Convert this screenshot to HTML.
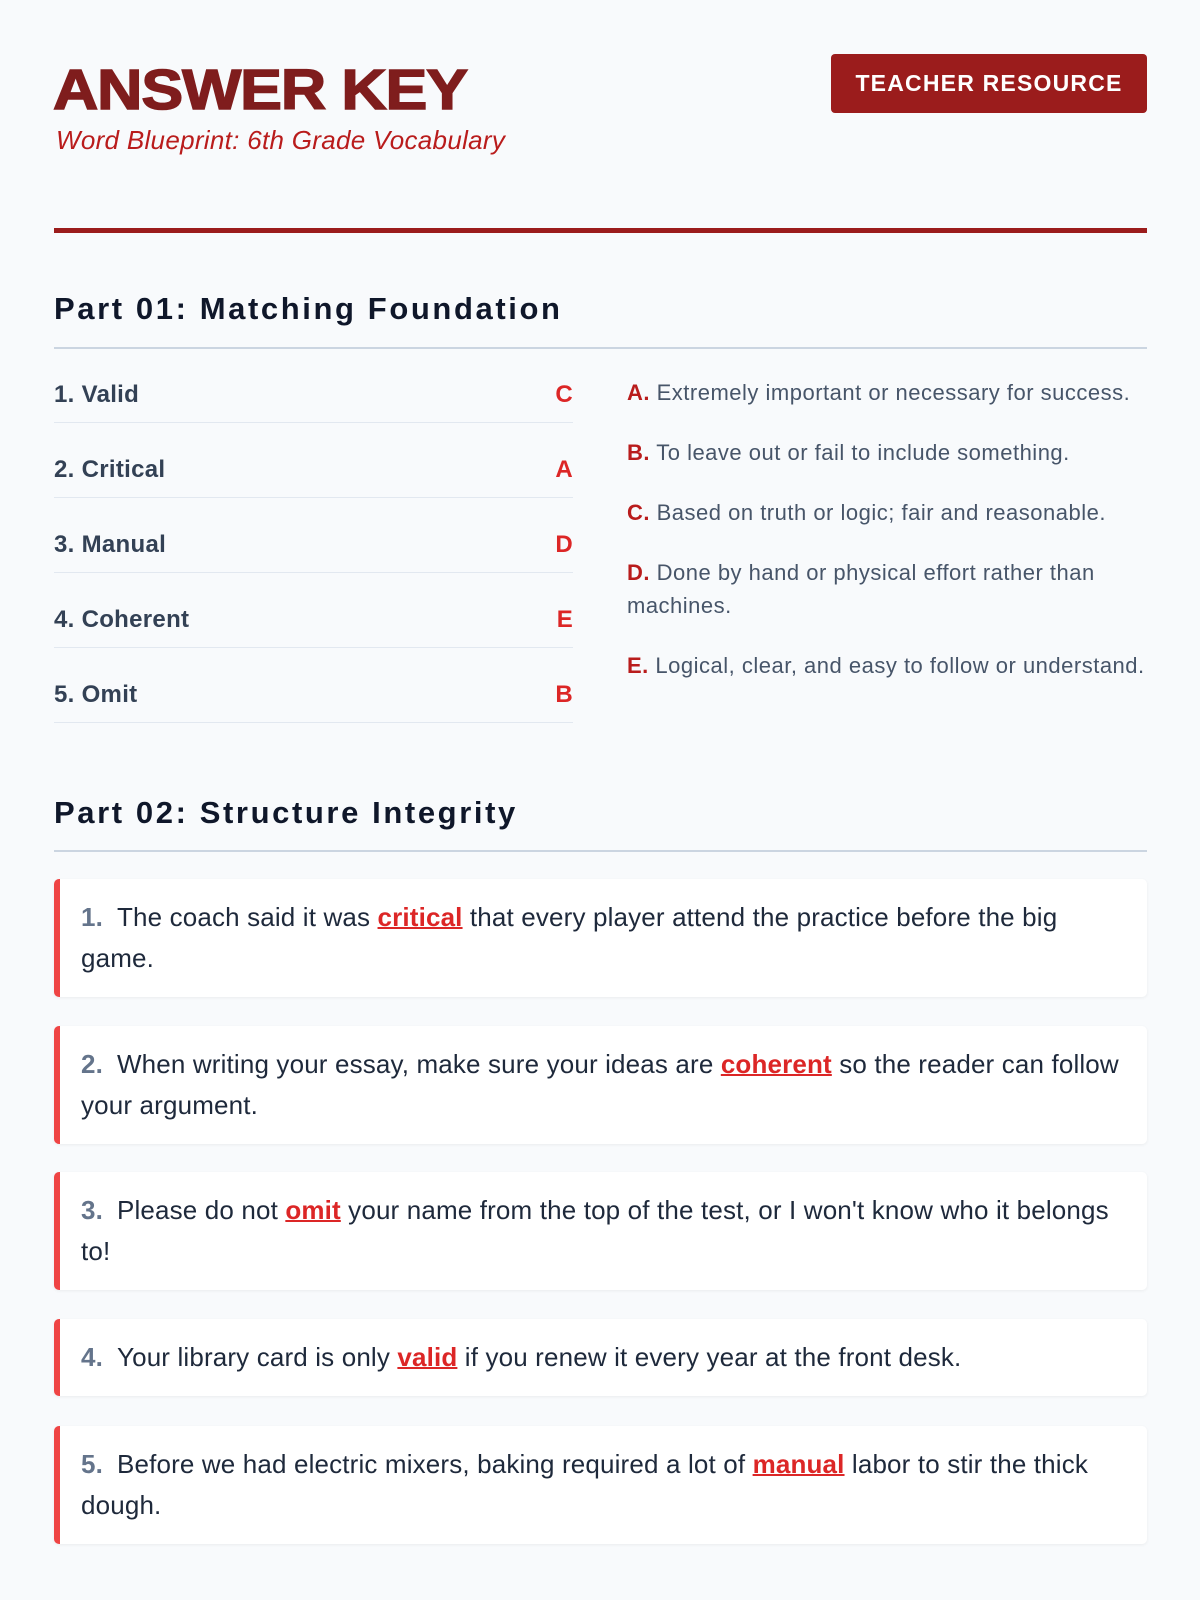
<!DOCTYPE html>
<html><head><meta charset="utf-8"><style>
*{margin:0;padding:0;box-sizing:border-box}
body{width:1200px;height:1600px;background:#f8fafc;font-family:"Liberation Sans",sans-serif;position:relative;overflow:hidden}
.abs{position:absolute}
h1{position:absolute;left:53px;top:60px;font-size:57px;font-weight:900;color:#7f1d1d;letter-spacing:-1px;line-height:60px;transform:scaleX(1.1);transform-origin:left;-webkit-text-stroke:1.5px #7f1d1d}
.sub{left:56px;top:125px;font-size:26px;font-style:italic;color:#b91c1c;letter-spacing:0.3px}
.badge{left:831px;top:54px;width:316px;height:59px;background:#9b1c1c;border-radius:4px;color:#fff;font-weight:bold;font-size:23px;letter-spacing:1.2px;text-align:center;line-height:59px}
.rule{left:54px;top:228px;width:1093px;height:5px;background:#9b1c1c}
h2{position:absolute;left:54px;font-size:31px;font-weight:bold;color:#0f172a;letter-spacing:2.6px}
.div{left:54px;width:1093px;height:2px;background:#cbd5e1}
.row{left:54px;width:519px;height:75px;border-bottom:1px solid #e2e8f0;font-size:24px;font-weight:bold;color:#334155;line-height:32px;padding-top:31px;letter-spacing:0.3px}
.row span{float:right;color:#dc2626}
.def{left:627px;width:520px;font-size:22px;color:#475569;line-height:33px;letter-spacing:0.5px}
.def b{color:#b91c1c}
.card{left:54px;width:1093px;background:#fff;border-left:6px solid #ef4444;border-radius:5px;box-shadow:0 1px 3px rgba(0,0,0,.06);padding:18px 18px 18px 21px;font-size:26px;line-height:41px;color:#1e293b;letter-spacing:0.15px}
.card .n{color:#64748b;font-weight:bold;margin-right:14px}
.card u{color:#dc2626;font-weight:bold;text-decoration-thickness:2px}
</style></head><body>
<h1>ANSWER KEY</h1>
<div class="abs sub">Word Blueprint: 6th Grade Vocabulary</div>
<div class="abs badge">TEACHER RESOURCE</div>
<div class="abs rule"></div>
<h2 style="top:291px">Part 01: Matching Foundation</h2>
<div class="abs div" style="top:347px"></div>
<div class="abs row" style="top:348px">1. Valid<span>C</span></div>
<div class="abs row" style="top:423px">2. Critical<span>A</span></div>
<div class="abs row" style="top:498px">3. Manual<span>D</span></div>
<div class="abs row" style="top:573px">4. Coherent<span>E</span></div>
<div class="abs row" style="top:648px">5. Omit<span>B</span></div>
<div class="abs def" style="top:376px"><b>A.</b> Extremely important or necessary for success.</div>
<div class="abs def" style="top:436px"><b>B.</b> To leave out or fail to include something.</div>
<div class="abs def" style="top:496px"><b>C.</b> Based on truth or logic; fair and reasonable.</div>
<div class="abs def" style="top:556px;width:480px"><b>D.</b> Done by hand or physical effort rather than machines.</div>
<div class="abs def" style="top:649px"><b>E.</b> Logical, clear, and easy to follow or understand.</div>
<h2 style="top:795px">Part 02: Structure Integrity</h2>
<div class="abs div" style="top:850px"></div>
<div class="abs card" style="top:879px"><span class="n">1.</span>The coach said it was <u>critical</u> that every player attend the practice before the big<br>game.</div>
<div class="abs card" style="top:1026px"><span class="n">2.</span>When writing your essay, make sure your ideas are <u>coherent</u> so the reader can follow<br>your argument.</div>
<div class="abs card" style="top:1172px"><span class="n">3.</span>Please do not <u>omit</u> your name from the top of the test, or I won't know who it belongs<br>to!</div>
<div class="abs card" style="top:1319px"><span class="n">4.</span>Your library card is only <u>valid</u> if you renew it every year at the front desk.</div>
<div class="abs card" style="top:1426px"><span class="n">5.</span>Before we had electric mixers, baking required a lot of <u>manual</u> labor to stir the thick<br>dough.</div>
</body></html>
